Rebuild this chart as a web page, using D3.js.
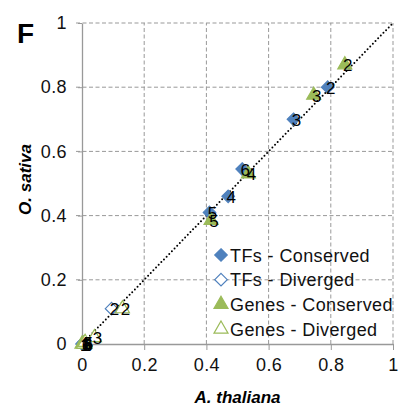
<!DOCTYPE html>
<html>
<head>
<meta charset="utf-8">
<script src="https://cdn.jsdelivr.net/npm/d3@7"></script>
<style>
    body { margin: 0; background: #fff; }
    text { font-family: "Liberation Sans", Arial, sans-serif; }
</style>
</head>
<body>
<div id="chart"></div>
<script>
"use strict";

// tick values for both axes
var ticks = [0, 0.2, 0.4, 0.6, 0.8, 1];

// each point: [A. thaliana, O. sativa, label]
var tfConserved = [
    [0.005, 0.005, "1"],
    [0.79, 0.80, "2"],
    [0.68, 0.70, "3"],
    [0.47, 0.46, "4"],
    [0.41, 0.41, "5"],
    [0.515, 0.545, "6"]
];
var tfDiverged = [
    [0.0, 0.0, "1"],
    [0.095, 0.11, "2"],
    [0.01, 0.005, "4"],
    [0.005, 0.0, "6"]
];
var genesConserved = [
    [0.0, 0.0, "1"],
    [0.845, 0.87, "2"],
    [0.745, 0.775, "3"],
    [0.535, 0.53, "4"],
    [0.415, 0.385, "5"],
    [0.01, 0.0, "6"]
];
var genesDiverged = [
    [0.005, 0.0, "1"],
    [0.13, 0.11, "2"],
    [0.04, 0.02, "3"],
    [0.01, 0.005, "5"]
];

var legendLabels = ["TFs - Conserved", "TFs - Diverged", "Genes - Conserved", "Genes - Diverged"];

var blue = "#4f81bd";
var green = "#9bbb59";
var gridColor = "#999";

var width = 403, height = 408;
var svg = d3.select("#chart").append("svg")
    .attr("width", width)
    .attr("height", height);

var x = d3.scaleLinear().domain([0, 1]).range([82, 393]);
var y = d3.scaleLinear().domain([0, 1]).range([344, 23]);

// gridlines
var grid = svg.append("g").attr("class", "grid");
grid.selectAll("line.h")
    .data(ticks.filter(function(d) { return d > 0; }))
    .enter().append("line")
    .attr("x1", x(0) - 6).attr("x2", x(1))
    .attr("y1", function(d) { return y(d); })
    .attr("y2", function(d) { return y(d); })
    .attr("stroke", gridColor).attr("stroke-dasharray", "4,2.5");
grid.selectAll("line.v")
    .data(ticks.filter(function(d) { return d > 0; }))
    .enter().append("line")
    .attr("y1", y(0)).attr("y2", y(1))
    .attr("x1", function(d) { return x(d); })
    .attr("x2", function(d) { return x(d); })
    .attr("stroke", gridColor).attr("stroke-dasharray", "4,2.5");

// axes
var xAxis = svg.append("g")
    .attr("transform", "translate(0," + y(0) + ")")
    .call(d3.axisBottom(x).tickValues(ticks).tickSize(6).tickSizeOuter(0)
        .tickFormat(d3.format("~g")));
var yAxis = svg.append("g")
    .attr("transform", "translate(" + x(0) + ",0)")
    .call(d3.axisLeft(y).tickValues(ticks).tickSize(6).tickSizeOuter(0)
        .tickFormat(d3.format("~g")));

[xAxis, yAxis].forEach(function(a) {
    a.select(".domain").attr("stroke", gridColor).attr("stroke-width", 1.3);
    a.selectAll(".tick line").attr("stroke", gridColor);
    a.selectAll(".tick text")
        .attr("fill", "#111")
        .style("font-size", "18px")
        .style("letter-spacing", "0.4px")
        .style("font-family", "'Liberation Sans', Arial, sans-serif");
});
xAxis.selectAll(".tick text").attr("y", 14);
yAxis.selectAll(".tick text").attr("x", -15);
yAxis.selectAll(".tick line").attr("stroke-dasharray", "4,2.5");
yAxis.selectAll(".tick").filter(function(d) { return d === 0; }).select("line").remove();

// diagonal reference line
svg.append("line")
    .attr("x1", x(0)).attr("y1", y(0))
    .attr("x2", x(1)).attr("y2", y(1))
    .attr("stroke", "#000")
    .attr("stroke-width", 2)
    .attr("stroke-linecap", "round")
    .attr("stroke-dasharray", "0,3.8");

var diamond = d3.symbol().type(d3.symbolDiamond2).size(100);
var triangle = d3.symbol().type(d3.symbolTriangle).size(85);

var series = [
    { data: tfConserved, shape: diamond, fill: blue, stroke: blue },
    { data: tfDiverged, shape: diamond, fill: "#fff", stroke: blue },
    { data: genesConserved, shape: triangle, fill: green, stroke: green },
    { data: genesDiverged, shape: triangle, fill: "#fff", stroke: green }
];

// markers
series.forEach(function(s) {
    svg.append("g").selectAll("path")
        .data(s.data)
        .enter().append("path")
        .attr("d", s.shape)
        .attr("transform", function(d) { return "translate(" + x(d[0]) + "," + y(d[1]) + ")"; })
        .attr("fill", s.fill)
        .attr("stroke", s.stroke)
        .attr("stroke-width", 1.2);
});

// point labels
series.forEach(function(s) {
    svg.append("g").selectAll("text")
        .data(s.data)
        .enter().append("text")
        .attr("x", function(d) { return x(d[0]) + 3; })
        .attr("y", function(d) { return y(d[1]) + 6.5; })
        .attr("text-anchor", "middle")
        .style("font-size", "17px")
        .attr("fill", "#000")
        .text(function(d) { return d[2]; });
});

// legend
var legend = svg.append("g").attr("transform", "translate(221,255)");
var rows = legend.selectAll("g")
    .data(series)
    .enter().append("g")
    .attr("transform", function(d, i) { return "translate(0," + (i * 24.7) + ")"; });
rows.append("path")
    .attr("d", function(d) { return d.shape(); })
    .attr("fill", function(d) { return d.fill; })
    .attr("stroke", function(d) { return d.stroke; })
    .attr("stroke-width", 1.2);
rows.append("text")
    .attr("x", 9)
    .attr("y", 6.5)
    .style("font-size", "18px")
    .style("letter-spacing", "0.4px")
    .attr("fill", "#111")
    .text(function(d, i) { return legendLabels[i]; });

// axis titles
svg.append("text")
    .attr("x", (x(0) + x(1)) / 2)
    .attr("y", 403)
    .attr("text-anchor", "middle")
    .style("font-size", "17px")
    .style("font-weight", "bold")
    .style("font-style", "italic")
    .text("A. thaliana");
svg.append("text")
    .attr("transform", "translate(31," + ((y(0) + y(1)) / 2 - 4) + ") rotate(-90)")
    .attr("text-anchor", "middle")
    .style("font-size", "17px")
    .style("font-weight", "bold")
    .style("font-style", "italic")
    .text("O. sativa");

// panel letter
svg.append("text")
    .attr("x", 17)
    .attr("y", 43)
    .style("font-size", "28px")
    .style("font-weight", "bold")
    .text("F");
</script>
</body>
</html>
